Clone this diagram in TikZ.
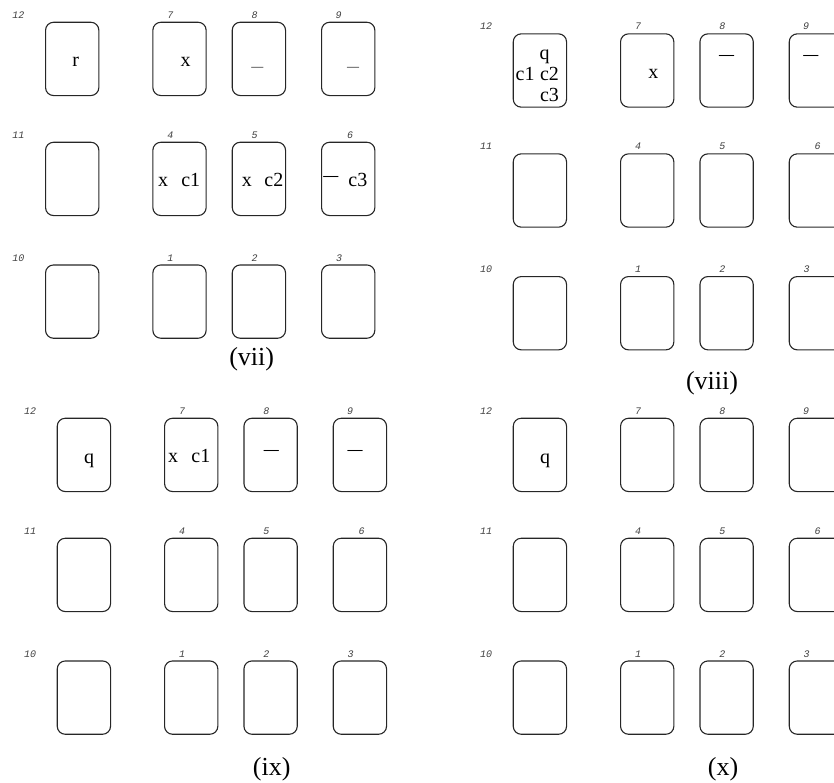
\documentclass[tikz,border=0pt]{standalone}
\usepackage{fontspec}
\setmainfont{Liberation Serif}
\newfontfamily\numfont{Liberation Mono}
\usetikzlibrary{positioning,calc}

\begin{document}
\begin{tikzpicture}[
  x=1pt, y=-1pt,
  slot/.style={draw=black!85, line width=1.1pt, rounded corners=8pt, minimum width=53.3pt, minimum height=73.3pt, inner sep=0pt, anchor=north west},
  num/.style={font=\numfont\itshape\fontsize{10}{12}\selectfont, text=black!75, inner sep=0pt},
  entry/.style={font=\fontsize{20}{24}\selectfont, anchor=base west, inner sep=0pt},
  dashmark/.style={font=\bfseries\fontsize{15}{15}\selectfont, inner sep=0pt},
  caption/.style={font=\fontsize{26}{30}\selectfont, inner sep=0pt}
]
\useasboundingbox (0,0) rectangle (834,782);

% the four panels: twelve slots each, numbered as printed
\foreach \pan/\px/\py in {vii/45/21.7, viii/512.7/33.3, ix/56.7/417.7, x/512.7/417.7} {
  \foreach \num/\cx/\cy/\lx in {12/0/0/-26.5, 7/107.3/0/18, 8/186.7/0/23, 9/276/0/17.5,
                               11/0/120/-26.5, 4/107.3/120/18, 5/186.7/120/23, 6/276/120/29,
                               10/0/242.7/-26.5, 1/107.3/242.7/18, 2/186.7/242.7/23, 3/276/242.7/18} {
    \node[slot] (\pan-\num) at (\px+\cx,\py+\cy) {};
    \node[num] (\pan-\num-lab) at ($(\pan-\num.north west)+(\lx,-6.7)$) {\num};
  }
}

% (vii)
\node[entry] (vii-r) at ($(vii-12.center)+(0,8)$) {r};
\node[entry] (vii-x7) at ($(vii-7.center)+(1,8)$) {x};
\node[dashmark, font=\mdseries\fontsize{12}{12}\selectfont] (vii-d8) at ($(vii-8.center)+(-1.6,10)$) {—};
\node[dashmark, font=\mdseries\fontsize{12}{12}\selectfont] (vii-d9) at ($(vii-9.center)+(5,10)$) {—};
\node[entry] (vii-x4) at ($(vii-4.center)+(-21.7,7.5)$) {x};
\node[entry] (vii-c1) at ($(vii-4.center)+(1.6,7.5)$) {c1};
\node[entry] (vii-x5) at ($(vii-5.center)+(-17.3,7.5)$) {x};
\node[entry] (vii-c2) at ($(vii-5.center)+(5.3,7.5)$) {c2};
\node[dashmark] (vii-d6) at ($(vii-6.center)+(-17.4,-0.7)$) {—};
\node[entry] (vii-c3) at ($(vii-6.center)+(0,7.5)$) {c3};
\node[caption] (vii-cap) at (251.7,359) {(vii)};

% (viii)
\node[entry] (viii-q) at ($(viii-12.center)+(-0.4,-10.7)$) {q};
\node[entry] (viii-c1) at ($(viii-12.center)+(-24.4,10)$) {c1};
\node[entry] (viii-c2) at ($(viii-12.center)+(0,10)$) {c2};
\node[entry] (viii-c3) at ($(viii-12.center)+(0,31)$) {c3};
\node[entry] (viii-x7) at ($(viii-7.center)+(1,8.3)$) {x};
\node[dashmark] (viii-d8) at ($(viii-8.center)+(0,-13.3)$) {—};
\node[dashmark] (viii-d9) at ($(viii-9.center)+(-5,-13.3)$) {—};
\node[caption] (viii-cap) at (712,383) {(viii)};

% (ix)
\node[entry] (ix-q) at ($(ix-12.center)+(0,9)$) {q};
\node[entry] (ix-x7) at ($(ix-7.center)+(-23.3,7.4)$) {x};
\node[entry] (ix-c1) at ($(ix-7.center)+(0,7.4)$) {c1};
\node[dashmark] (ix-d8) at ($(ix-8.center)+(0.8,-2.6)$) {—};
\node[dashmark] (ix-d9) at ($(ix-9.center)+(-4.8,-2.6)$) {—};
\node[caption] (ix-cap) at (271.7,769) {(ix)};

% (x)
\node[entry] (x-q) at ($(x-12.center)+(0,9)$) {q};
\node[caption] (x-cap) at (723,769) {(x)};
\end{tikzpicture}
\end{document}
